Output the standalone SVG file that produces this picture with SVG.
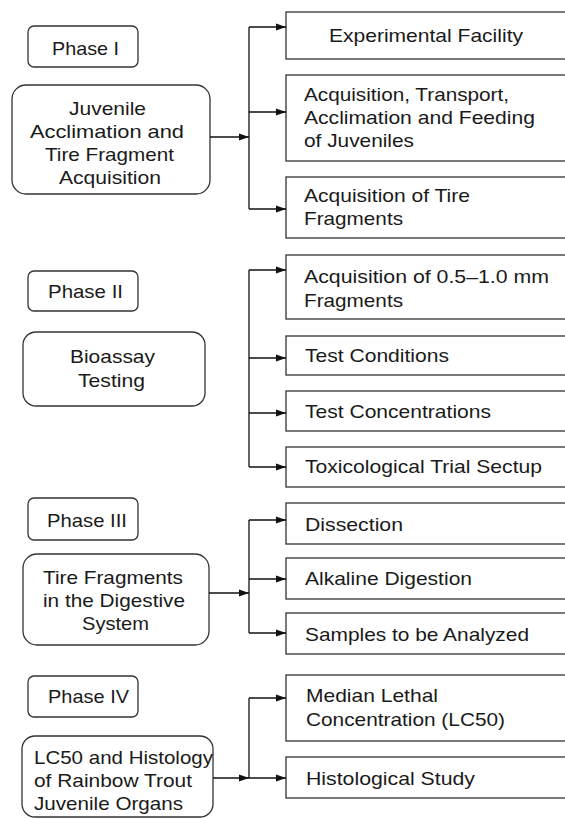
<svg xmlns="http://www.w3.org/2000/svg" width="565" height="819" viewBox="0 0 565 819">
<style>
text{font-family:"Liberation Sans",Arial,sans-serif;font-size:19px;fill:#1a1a1a}
.ph{fill:#fff;stroke:#333;stroke-width:1.3}
.bx{fill:#fff;stroke:#333;stroke-width:1.3}
.rb{fill:#fff;stroke:#333;stroke-width:1.3}
.c{fill:none;stroke:#111;stroke-width:1.3}
</style>
<defs>
<marker id="ah" viewBox="0 0 10 8" refX="10" refY="4" markerWidth="10" markerHeight="8" markerUnits="userSpaceOnUse" orient="auto">
<path d="M0,0.5 L10,4 L0,7.5 z" fill="#111"/>
</marker>
</defs>
<rect width="565" height="819" fill="#fff"/>

<!-- Phase I -->
<g id="phase1"><rect class="ph" x="28" y="26" width="110" height="41" rx="6"/><text x="52" y="55" textLength="67" lengthAdjust="spacingAndGlyphs">Phase I</text></g>
<g id="juvenile"><rect class="bx" x="12" y="85" width="198" height="109" rx="14"/>
<text x="69" y="115" textLength="77" lengthAdjust="spacingAndGlyphs">Juvenile</text>
<text x="30" y="138" textLength="154" lengthAdjust="spacingAndGlyphs">Acclimation  and</text>
<text x="45" y="161" textLength="129" lengthAdjust="spacingAndGlyphs">Tire Fragment</text>
<text x="59" y="184" textLength="102" lengthAdjust="spacingAndGlyphs">Acquisition</text></g>
<g id="facility"><rect class="rb" x="286" y="12" width="290" height="47"/><text x="329" y="42" textLength="194" lengthAdjust="spacingAndGlyphs">Experimental Facility</text></g>
<g id="transport"><rect class="rb" x="286" y="75" width="290" height="86"/>
<text x="304" y="101" textLength="205" lengthAdjust="spacingAndGlyphs">Acquisition, Transport,</text>
<text x="304" y="124" textLength="231" lengthAdjust="spacingAndGlyphs">Acclimation and Feeding</text>
<text x="304" y="147" textLength="110" lengthAdjust="spacingAndGlyphs">of Juveniles</text></g>
<g id="tire"><rect class="rb" x="286" y="177" width="290" height="61"/>
<text x="304" y="202" textLength="166" lengthAdjust="spacingAndGlyphs">Acquisition of Tire</text>
<text x="304" y="225" textLength="99" lengthAdjust="spacingAndGlyphs">Fragments</text></g>

<!-- Phase II -->
<g id="phase2"><rect class="ph" x="28" y="271" width="110" height="40" rx="6"/><text x="48" y="298" textLength="75" lengthAdjust="spacingAndGlyphs">Phase II</text></g>
<g id="bioassay"><rect class="bx" x="23" y="332" width="182" height="74" rx="13"/>
<text x="70" y="363" textLength="85" lengthAdjust="spacingAndGlyphs">Bioassay</text>
<text x="78" y="387" textLength="67" lengthAdjust="spacingAndGlyphs">Testing</text></g>
<g id="frag"><rect class="rb" x="286" y="255" width="290" height="64"/>
<text x="304" y="283" textLength="245" lengthAdjust="spacingAndGlyphs">Acquisition of 0.5–1.0 mm</text>
<text x="304" y="307" textLength="99" lengthAdjust="spacingAndGlyphs">Fragments</text></g>
<g id="conditions"><rect class="rb" x="286" y="336" width="290" height="39"/><text x="305" y="362" textLength="144" lengthAdjust="spacingAndGlyphs">Test Conditions</text></g>
<g id="concentrations"><rect class="rb" x="286" y="391" width="290" height="40"/><text x="305" y="418" textLength="186" lengthAdjust="spacingAndGlyphs">Test Concentrations</text></g>
<g id="setup"><rect class="rb" x="286" y="447" width="290" height="40"/><text x="305" y="473" textLength="237" lengthAdjust="spacingAndGlyphs">Toxicological Trial Sectup</text></g>

<!-- Phase III -->
<g id="phase3"><rect class="ph" x="28" y="498" width="110" height="42" rx="6"/><text x="47" y="527" textLength="80" lengthAdjust="spacingAndGlyphs">Phase III</text></g>
<g id="digestive"><rect class="bx" x="23" y="554" width="186" height="91" rx="14"/>
<text x="43" y="584" textLength="140" lengthAdjust="spacingAndGlyphs">Tire Fragments</text>
<text x="43" y="607" textLength="142" lengthAdjust="spacingAndGlyphs">in the Digestive</text>
<text x="82" y="630" textLength="67" lengthAdjust="spacingAndGlyphs">System</text></g>
<g id="dissection"><rect class="rb" x="286" y="503" width="290" height="41"/><text x="305" y="531" textLength="98" lengthAdjust="spacingAndGlyphs">Dissection</text></g>
<g id="alkaline"><rect class="rb" x="286" y="558" width="290" height="41"/><text x="305" y="585" textLength="167" lengthAdjust="spacingAndGlyphs">Alkaline Digestion</text></g>
<g id="samples"><rect class="rb" x="286" y="613" width="290" height="41"/><text x="305" y="641" textLength="224" lengthAdjust="spacingAndGlyphs">Samples to be Analyzed</text></g>

<!-- Phase IV -->
<g id="phase4"><rect class="ph" x="28" y="676" width="110" height="41" rx="6"/><text x="48" y="703" textLength="81" lengthAdjust="spacingAndGlyphs">Phase IV</text></g>
<g id="lc50box"><rect class="bx" x="22" y="736" width="191" height="81" rx="13"/>
<text x="34" y="764" textLength="179" lengthAdjust="spacingAndGlyphs">LC50 and Histology</text>
<text x="34" y="787" textLength="158" lengthAdjust="spacingAndGlyphs">of Rainbow Trout</text>
<text x="34" y="810" textLength="149" lengthAdjust="spacingAndGlyphs">Juvenile Organs</text></g>
<g id="median"><rect class="rb" x="286" y="675" width="290" height="66"/>
<text x="306" y="702" textLength="132" lengthAdjust="spacingAndGlyphs">Median Lethal</text>
<text x="306" y="726" textLength="199" lengthAdjust="spacingAndGlyphs">Concentration (LC50)</text></g>
<g id="histology"><rect class="rb" x="286" y="757" width="290" height="41"/><text x="306" y="785" textLength="169" lengthAdjust="spacingAndGlyphs">Histological Study</text></g>

<g id="connectors">
<path class="c" d="M249,27 V209"/>
<path class="c" d="M210,137 H249" marker-end="url(#ah)"/>
<path class="c" d="M249,27 H286" marker-end="url(#ah)"/>
<path class="c" d="M249,112 H286" marker-end="url(#ah)"/>
<path class="c" d="M249,209 H286" marker-end="url(#ah)"/>

<path class="c" d="M249,270 V467"/>
<path class="c" d="M249,270 H286" marker-end="url(#ah)"/>
<path class="c" d="M249,358 H286" marker-end="url(#ah)"/>
<path class="c" d="M249,413 H286" marker-end="url(#ah)"/>
<path class="c" d="M249,467 H286" marker-end="url(#ah)"/>

<path class="c" d="M249,520 V633"/>
<path class="c" d="M209,593 H249" marker-end="url(#ah)"/>
<path class="c" d="M249,520 H286" marker-end="url(#ah)"/>
<path class="c" d="M249,579 H286" marker-end="url(#ah)"/>
<path class="c" d="M249,633 H286" marker-end="url(#ah)"/>

<path class="c" d="M249,698 V778"/>
<path class="c" d="M213,778 H249" marker-end="url(#ah)"/>
<path class="c" d="M249,698 H286" marker-end="url(#ah)"/>
<path class="c" d="M249,778 H286" marker-end="url(#ah)"/>
</g>
</svg>
